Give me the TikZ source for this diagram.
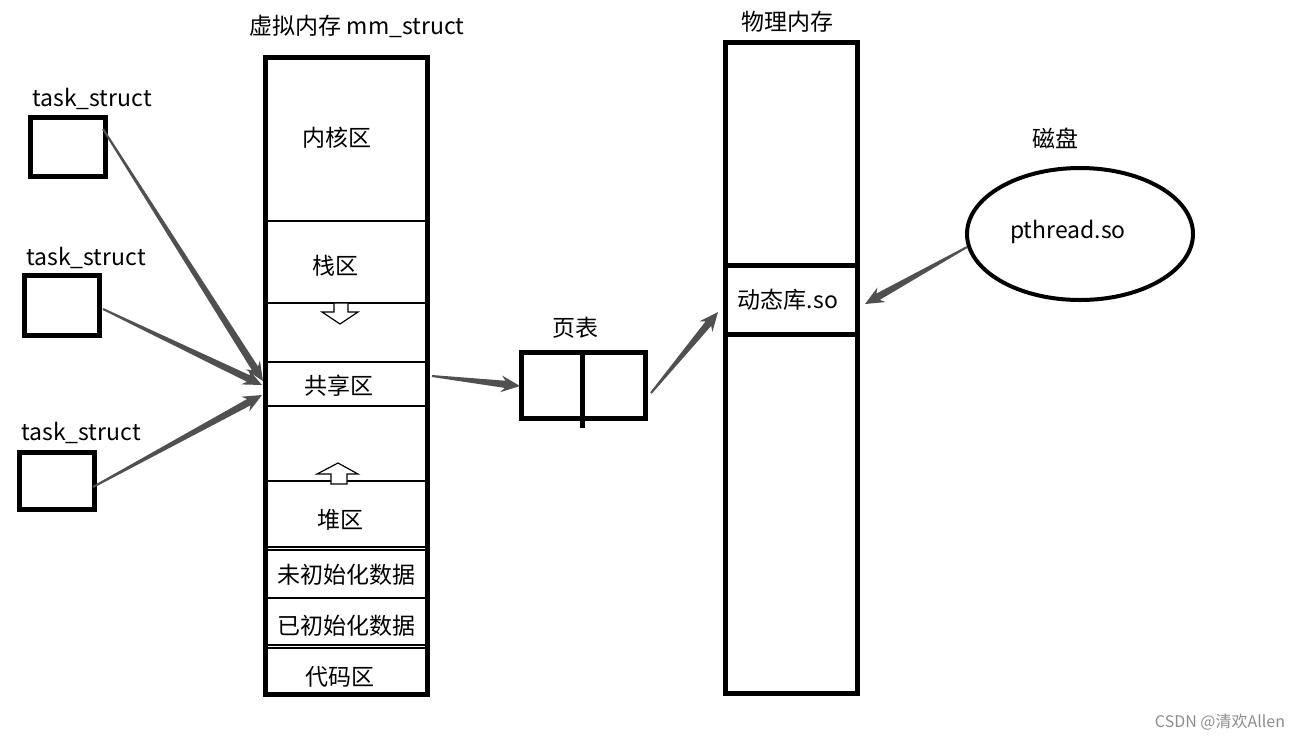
\documentclass[tikz,border=0pt]{standalone}
\usepackage{fontspec}
\setmainfont{Noto Sans CJK SC}
\usetikzlibrary{calc,shapes.geometric}
\definecolor{arrowgray}{RGB}{80,80,80}
\newcommand\taper[2]{%
  \fill[arrowgray] let \p1=(#1), \p2=(#2),
    \n1={atan2(\y2-\y1,\x2-\x1)}, \n2={\n1+90}, \n3={\n1-90}, \n4={\n1+180} in
    ($(\p1)+(\n2:0.5pt)$) -- ($(\p2)+(\n4:7.5pt)+(\n2:1.8pt)$) -- ($(\p2)+(\n4:9.5pt)+(\n2:4.2pt)$)
    -- (\p2) -- ($(\p2)+(\n4:9.5pt)+(\n3:4.2pt)$) -- ($(\p2)+(\n4:7.5pt)+(\n3:1.8pt)$)
    -- ($(\p1)+(\n3:0.5pt)$) -- cycle;}
\begin{document}
\begin{tikzpicture}[x=0.5pt,y=-0.5pt,
  lbl/.style={inner sep=0pt, font=\fontsize{11.5pt}{13pt}\selectfont},
  thickbox/.style={draw, line width=2.5pt, inner sep=0pt, fill=white},
  thin/.style={line width=0.75pt},
  hollow/.style={draw, line width=0.6pt, fill=white}]
\useasboundingbox (0,0) rectangle (1301,741);
% task_struct boxes
\node[thickbox, minimum width=37.5pt, minimum height=29.5pt] (t1) at (68,147) {};
\node[thickbox, minimum width=37.5pt, minimum height=30pt] (t2) at (62,305.5) {};
\node[thickbox, minimum width=37.5pt, minimum height=28.5pt] (t3) at (57,481) {};
\node[lbl] (l1) at (92,99) {task\_struct};
\node[lbl] (l2) at (86,258) {task\_struct};
\node[lbl] (l3) at (81,433) {task\_struct};
% virtual memory
\node[lbl] (vt) at (357,26) {虚拟内存 mm\_struct};
\node[thickbox, minimum width=81pt, minimum height=318.5pt] (vm) at (346.5,376) {};
\foreach \yy in {221,303,362,406,481,547,550,598,645,648}
  \draw[thin] (266,\yy) -- (427,\yy);
\node[lbl] (k) at (337,138) {内核区};
\node[lbl] (s) at (335,266) {栈区};
\node[lbl] (sh) at (339,386) {共享区};
\node[lbl] (h) at (340,520) {堆区};
\node[lbl] (bss) at (346,575) {未初始化数据};
\node[lbl] (data) at (346,626) {已初始化数据};
\node[lbl] (code) at (340,677) {代码区};
\draw[hollow] (334,303) -- (348,303) -- (348,312) -- (358,312) -- (340,324) -- (322,312) -- (334,312) -- cycle;
\draw[hollow] (338,463) -- (358,474) -- (347,474) -- (347,484) -- (331,484) -- (331,474) -- (317,474) -- cycle;
% page table
\node[lbl] (ptl) at (575,328) {页表};
\node[thickbox, minimum width=62pt, minimum height=33pt] (pt) at (583.5,385.5) {};
\draw[line width=2.5pt] (582,352) -- (582,428);
% physical memory
\node[lbl] (pml) at (787,22) {物理内存};
\node[thickbox, minimum width=66pt, minimum height=325.5pt] (pm) at (791.5,368) {};
\node[thickbox, minimum width=66pt, minimum height=34.5pt] (dl) at (791.5,300) {};
\node[lbl] (dlt) at (788,300) {动态库.so};
% disk
\node[lbl] (dk) at (1055,138) {磁盘};
\node[draw, ellipse, line width=2pt, minimum width=113pt, minimum height=66pt, inner sep=0pt] (disk) at (1080,234) {};
\node[lbl] (pth) at (1068,232) {pthread.so};
% arrow end points
\coordinate (a1s) at (103,129); \coordinate (a1e) at (263,381);
\coordinate (a2s) at (103,309); \coordinate (a2e) at (262,385);
\coordinate (a3s) at (93,487);  \coordinate (a3e) at (262,395);
\coordinate (a4s) at (432,376); \coordinate (a4e) at (520,386);
\coordinate (a5s) at (651,393); \coordinate (a5e) at (718,312);
\coordinate (a6s) at (967,247); \coordinate (a6e) at (865,304);
\taper{a1s}{a1e}
\taper{a2s}{a2e}
\taper{a3s}{a3e}
\taper{a4s}{a4e}
\taper{a5s}{a5e}
\taper{a6s}{a6e}
% watermark
\node[inner sep=0pt, text=black!45, font=\fontsize{8pt}{9pt}\selectfont] (wm) at (1220,722) {CSDN @清欢Allen};
\end{tikzpicture}
\end{document}
